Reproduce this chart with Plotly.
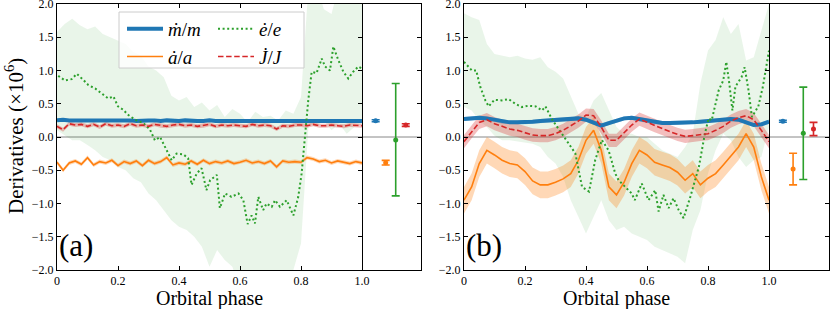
import numpy as np
import plotly.graph_objects as go

# ---------------- data ----------------
phase_a = np.round(np.linspace(0, 1, 51), 3)
mdot_a = [0.25,0.26,0.25,0.25,0.26,0.25,0.25,0.26,0.25,0.25,
          0.25,0.26,0.25,0.24,0.25,0.25,0.25,0.24,0.25,0.24,
          0.24,0.25,0.24,0.24,0.24,0.25,0.24,0.24,0.24,0.25,
          0.24,0.24,0.24,0.24,0.25,0.24,0.24,0.24,0.24,0.24,
          0.24,0.25,0.24,0.24,0.24,0.24,0.24,0.24,0.24,0.24,0.24]
adot_a = [-0.38,-0.50,-0.39,-0.36,-0.41,-0.31,-0.42,-0.37,-0.39,-0.35,
          -0.43,-0.37,-0.40,-0.36,-0.43,-0.35,-0.40,-0.37,-0.31,-0.42,
          -0.39,-0.41,-0.36,-0.41,-0.35,-0.40,-0.37,-0.39,-0.36,-0.40,
          -0.38,-0.35,-0.39,-0.37,-0.40,-0.36,-0.45,-0.36,-0.38,-0.37,
          -0.38,-0.31,-0.33,-0.37,-0.35,-0.39,-0.36,-0.38,-0.40,-0.37,-0.39]
jdot_a = [0.16,0.11,0.20,0.18,0.19,0.16,0.19,0.15,0.20,0.17,
          0.18,0.16,0.20,0.17,0.18,0.16,0.19,0.17,0.16,0.18,
          0.19,0.17,0.18,0.16,0.17,0.19,0.16,0.18,0.17,0.18,
          0.17,0.16,0.19,0.17,0.18,0.17,0.12,0.17,0.16,0.18,
          0.18,0.17,0.19,0.17,0.17,0.18,0.17,0.16,0.18,0.17,0.17]
mdot_a_err, adot_a_err, jdot_a_err = 0.02, 0.03, 0.03

phase_e_a = [0.004,0.026,0.048,0.065,0.086,0.103,0.125,0.146,0.168,0.185,
             0.2,0.217,0.234,0.256,0.283,0.305,0.321,0.338,0.36,0.376,
             0.392,0.414,0.43,0.441,0.458,0.474,0.49,0.502,0.524,0.534,
             0.551,0.572,0.595,0.611,0.625,0.638,0.649,0.66,0.676,0.687,
             0.704,0.715,0.731,0.753,0.775,0.791,0.802,0.813,0.824,0.835,
             0.851,0.868,0.879,0.895,0.906,0.922,0.939,0.955,0.971,0.988,1.0]
edot_a = [0.92,0.85,0.87,0.95,0.86,0.78,0.73,0.66,0.58,0.61,
          0.46,0.41,0.33,0.26,0.21,0.11,-0.05,0.0,-0.2,-0.35,
          -0.25,-0.26,-0.32,-0.72,-0.55,-0.47,-0.80,-0.65,-0.57,-1.07,
          -0.85,-0.90,-0.85,-0.95,-1.31,-1.18,-1.30,-0.90,-1.10,-1.00,
          -1.05,-0.95,-1.05,-0.95,-1.18,-0.90,-0.55,0.06,0.56,0.98,
          0.96,1.18,1.06,1.00,1.36,1.16,0.98,0.88,0.98,1.06,1.03]

band_phase = np.round(np.linspace(0, 1, 41), 3)
edot_a_hi = [1.58,1.70,1.78,1.68,1.62,1.66,1.55,1.50,1.45,1.40,
             1.28,1.22,1.06,1.00,0.90,0.62,0.55,0.60,0.45,0.52,
             0.40,0.48,0.30,0.42,0.35,0.22,0.38,0.30,0.32,0.25,
             0.40,0.35,0.60,2.30,2.30,1.92,1.85,2.30,2.30,2.30,2.30]
edot_a_lo = [0.10,0.02,-0.05,-0.05,-0.12,-0.20,-0.30,-0.35,-0.45,-0.50,
             -0.62,-0.68,-0.85,-0.95,-1.10,-1.25,-1.35,-1.40,-1.50,-1.65,
             -1.95,-1.70,-1.85,-1.95,-2.30,-2.30,-2.10,-2.30,-2.30,-2.20,
             -2.30,-2.00,-1.60,0.20,0.15,0.25,0.10,0.20,0.05,0.15,0.20]

mdot_b = [0.27,0.28,0.29,0.28,0.26,0.23,0.22,0.22,0.22,0.23,
          0.24,0.25,0.26,0.26,0.27,0.28,0.26,0.22,0.17,0.21,
          0.25,0.28,0.29,0.27,0.24,0.22,0.21,0.21,0.21,0.21,
          0.22,0.23,0.24,0.25,0.26,0.27,0.26,0.22,0.18,0.19,0.23]
jdot_b = [-0.07,0.08,0.22,0.26,0.20,0.16,0.12,0.10,0.06,0.03,
          0.02,0.02,0.05,0.10,0.17,0.24,0.33,0.32,0.15,-0.05,
          -0.05,0.06,0.18,0.27,0.22,0.17,0.12,0.08,0.04,0.01,
          0.02,0.04,0.05,0.10,0.16,0.24,0.29,0.32,0.26,0.10,-0.07]
adot_b = [-0.95,-0.75,-0.40,-0.20,-0.27,-0.35,-0.40,-0.42,-0.52,-0.66,
          -0.72,-0.72,-0.68,-0.63,-0.55,-0.35,-0.05,0.10,-0.20,-0.75,
          -0.87,-0.68,-0.40,-0.20,-0.27,-0.38,-0.42,-0.46,-0.53,-0.65,
          -0.55,-0.72,-0.62,-0.55,-0.42,-0.28,-0.15,0.05,-0.15,-0.60,-0.95]
mdot_b_err, adot_b_err, jdot_b_err = 0.03, 0.2, 0.1

phase_e_b = [0.0,0.026,0.04,0.053,0.07,0.081,0.1,0.124,0.146,0.168,
             0.19,0.21,0.235,0.256,0.267,0.29,0.32,0.343,0.365,0.387,
             0.41,0.43,0.452,0.474,0.496,0.507,0.53,0.55,0.56,0.583,
             0.605,0.627,0.638,0.654,0.671,0.687,0.704,0.72,0.742,0.77,
             0.79,0.802,0.812,0.835,0.85,0.86,0.87,0.88,0.89,0.91,
             0.92,0.933,0.944,0.965,0.98,1.0]
edot_b = [1.13,1.0,1.0,0.76,0.55,0.46,0.56,0.55,0.57,0.50,
          0.45,0.47,0.46,0.40,0.46,0.255,0.055,-0.095,-0.245,-0.75,
          -0.82,-0.35,-0.045,-0.20,-0.55,-0.65,-0.75,-0.85,-0.95,-0.70,
          -0.95,-0.80,-1.12,-0.87,-1.07,-0.92,-1.10,-1.22,-0.90,-0.45,
          0.055,0.28,0.25,0.70,0.85,1.13,0.80,0.40,0.76,0.90,
          1.05,0.70,0.30,0.46,0.76,1.30]
edot_b_hi = [1.86,1.80,1.76,1.40,1.25,1.22,1.20,1.22,1.18,1.16,
             1.20,1.05,0.98,0.88,0.60,0.35,0.30,0.55,0.66,0.40,
             0.15,0.05,0.05,0.0,0.0,-0.10,-0.20,-0.25,-0.30,-0.15,
             0.05,0.80,1.30,1.46,1.80,1.55,1.70,1.15,1.20,1.60,2.0]
edot_b_lo = [0.45,0.40,0.25,0.15,0.02,-0.05,-0.05,-0.07,-0.08,-0.10,
             -0.15,-0.30,-0.40,-0.60,-0.95,-1.20,-1.45,-1.20,-0.95,-1.25,
             -1.40,-1.35,-1.45,-1.50,-1.55,-1.65,-1.70,-1.75,-1.80,-1.90,
             -1.40,-1.10,-0.55,-0.20,0.05,-0.05,-0.30,-0.45,-0.35,-0.30,0.15]

# side panels: averaged derivatives (order: mdot, adot, edot, Jdot)
side_pos = [1, 2, 3, 4]
side_a = [0.245, -0.386, -0.045, 0.18]
side_a_up = [0.015, 0.035, 0.85, 0.02]
side_a_dn = [0.015, 0.035, 0.84, 0.02]
side_b = [0.236, -0.48, 0.055, 0.12]
side_b_up = [0.015, 0.235, 0.695, 0.10]
side_b_dn = [0.015, 0.24, 0.695, 0.10]

yticks = [-2.0, -1.5, -1.0, -0.5, 0.0, 0.5, 1.0, 1.5, 2.0]
xticks = [0, 0.2, 0.4, 0.6, 0.8, 1.0]
xtick_text = ["0", "0.2", "0.4", "0.6", "0.8", "1.0"]

names = ["<i>ṁ</i>/<i>m</i>", "<i>ȧ</i>/<i>a</i>", "<i>ė</i>/<i>e</i>", "<i>J\u0307</i>/<i>J</i>"]
colors = ["#1f77b4", "#ff7f0e", "#2ca02c", "#d62728"]
FONT = "Liberation Serif"

def rgba(hexc, a):
    h = hexc.lstrip("#")
    return "rgba(%d,%d,%d,%s)" % (int(h[0:2], 16), int(h[2:4], 16), int(h[4:6], 16), a)

fig = go.Figure()

def band(x, lo, hi, color, alpha, xa, ya):
    x = list(x)
    fig.add_trace(go.Scatter(x=x + x[::-1], y=list(hi) + list(lo)[::-1], fill="toself",
                             fillcolor=rgba(color, alpha), line=dict(width=0),
                             mode="lines", hoverinfo="skip", showlegend=False,
                             xaxis=xa, yaxis=ya))

def panel(xa, ya, sx, sy, data, legend):
    (ph, md, ad, jd, me, ae, je, phe, ed, bph, elo, ehi, sv, su, sd) = data
    band(bph, elo, ehi, colors[2], 0.1, xa, ya)
    band(ph, np.array(ad) - ae, np.array(ad) + ae, colors[1], 0.3, xa, ya)
    band(ph, np.array(jd) - je, np.array(jd) + je, colors[3], 0.3, xa, ya)
    band(ph, np.array(md) - me, np.array(md) + me, colors[0], 0.3, xa, ya)
    styles = [dict(width=4), dict(width=1.6), dict(width=2, dash="2px,2.6px"), dict(width=1.6, dash="5.5px,2.6px")]
    series = [(ph, md), (ph, ad), (phe, ed), (ph, jd)]
    legs = ["legend", "legend", "legend2", "legend2"]
    for i, (xx, yy) in enumerate(series):
        fig.add_trace(go.Scatter(x=list(xx), y=list(yy), mode="lines", name=names[i],
                                 line=dict(color=colors[i], **styles[i]),
                                 showlegend=legend, legend=legs[i], legendgroup="g%d" % i,
                                 xaxis=xa, yaxis=ya))
    for i in range(4):
        fig.add_trace(go.Scatter(x=[side_pos[i]], y=[sv[i]], mode="markers",
                                 marker=dict(color=colors[i], size=5),
                                 error_y=dict(type="data", array=[su[i]], arrayminus=[sd[i]],
                                              color=colors[i], thickness=1.6, width=4),
                                 showlegend=False, xaxis=sx, yaxis=sy))

panel("x", "y", "x2", "y2",
      (phase_a, mdot_a, adot_a, jdot_a, mdot_a_err, adot_a_err, jdot_a_err,
       phase_e_a, edot_a, band_phase, edot_a_lo, edot_a_hi, side_a, side_a_up, side_a_dn), True)
panel("x3", "y3", "x4", "y4",
      (band_phase, mdot_b, adot_b, jdot_b, mdot_b_err, adot_b_err, jdot_b_err,
       phase_e_b, edot_b, band_phase, edot_b_lo, edot_b_hi, side_b, side_b_up, side_b_dn), False)

W, H = 830, 309
def px(v): return v / W
def py(v): return 1 - v / H

ydom = [py(270), py(4)]
tickfont = dict(family=FONT, size=12, color="black")
common = dict(showline=True, linecolor="black", linewidth=1, showgrid=False, zeroline=False, automargin=False)
main_x = dict(range=[0, 1], tickvals=xticks, ticktext=xtick_text, ticks="inside", ticklen=4,
              mirror="ticks", tickfont=tickfont, tickcolor="black", **common)
main_y = dict(range=[-2, 2], tickvals=yticks, ticktext=[("%.1f" % v).replace("-", "−") for v in yticks],
              ticks="inside", ticklen=4, mirror="ticks", tickfont=tickfont, tickcolor="black", domain=ydom,
              ticklabeloverflow="allow", **common)
side_x = dict(range=[-0.36, 5.52], showticklabels=False, ticks="", mirror=True, **common)
side_y = dict(range=[-2, 2], tickvals=yticks, showticklabels=False, ticks="inside", ticklen=4,
              tickcolor="black", side="right", mirror=False, domain=ydom, **common)

fig.update_layout(
    width=W, height=H, margin=dict(l=0, r=0, t=0, b=0, autoexpand=False),
    plot_bgcolor="white", paper_bgcolor="white",
    xaxis=dict(domain=[px(57), px(362)], anchor="y", **main_x),
    yaxis=dict(anchor="x", **main_y),
    xaxis2=dict(domain=[px(362), px(421)], anchor="y2", **side_x),
    yaxis2=dict(anchor="x2", **side_y),
    xaxis3=dict(domain=[px(464), px(769)], anchor="y3", **main_x),
    yaxis3=dict(anchor="x3", **main_y),
    xaxis4=dict(domain=[px(769), px(829)], anchor="y4", **side_x),
    yaxis4=dict(anchor="x4", **side_y),
    legend=dict(x=px(122), y=py(10), xanchor="left", yanchor="top", bgcolor="rgba(0,0,0,0)",
                font=dict(family=FONT, size=19, color="black"), itemwidth=36, tracegroupgap=0),
    legend2=dict(x=px(213), y=py(10), xanchor="left", yanchor="top", bgcolor="rgba(0,0,0,0)",
                 font=dict(family=FONT, size=19, color="black"), itemwidth=36, tracegroupgap=0),
    showlegend=True,
)

# zero lines
for xa, ya in [("x", "y"), ("x2", "y2"), ("x3", "y3"), ("x4", "y4")]:
    fig.add_shape(type="line", xref=xa + " domain", yref=ya, x0=0, x1=1, y0=0, y1=0,
                  line=dict(color="#888888", width=1), layer="below")

# legend frame
fig.add_shape(type="rect", xref="paper", yref="paper", x0=px(119), x1=px(304), y0=py(68), y1=py(12),
              line=dict(color="#cccccc", width=1), fillcolor="rgba(255,255,255,0.8)", layer="above")

# axis titles
for xa in ["x", "x3"]:
    fig.add_annotation(text="Orbital phase", xref=xa + " domain", yref="paper", x=0.5, y=py(298),
                       xanchor="center", yanchor="middle", showarrow=False,
                       font=dict(family=FONT, size=20, color="black"))
fig.add_annotation(text="Derivatives (×10<sup>6</sup>)", xref="paper", yref="paper", x=px(14), y=py(136),
                   xanchor="center", yanchor="middle", textangle=-90, showarrow=False,
                   font=dict(family=FONT, size=21, color="black"))

for xa, lab in [("x", "(a)"), ("x3", "(b)")]:
    fig.add_annotation(text=lab, xref=xa + " domain", yref="y domain", x=0.0, y=0.019,
                       xanchor="left", yanchor="bottom", showarrow=False,
                       font=dict(family=FONT, size=31, color="black"))

fig.write_html("out.html", config={"displayModeBar": False},
               post_script="document.body.style.margin='0px';document.body.style.overflow='hidden';")
